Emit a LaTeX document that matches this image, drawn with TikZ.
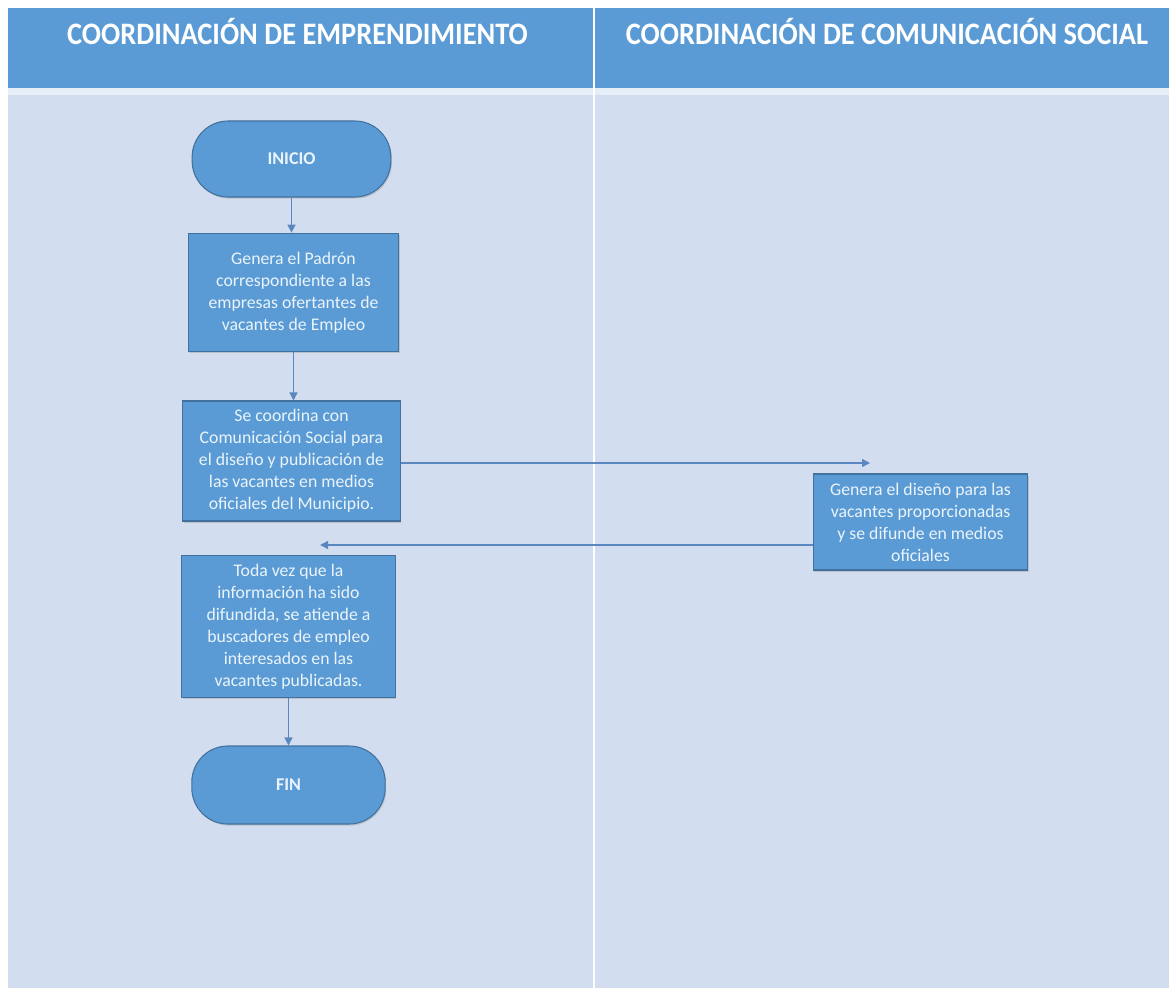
\documentclass[tikz,border=0pt]{standalone}
\usepackage{fontspec}
\setmainfont{Carlito}
\usetikzlibrary{arrows.meta,shadows}
\definecolor{hdr}{HTML}{5B9BD5}
\definecolor{body}{HTML}{D2DEEF}
\definecolor{sep}{HTML}{E6EEF8}
\definecolor{nodefill}{HTML}{5B9BD5}
\definecolor{nodeedge}{HTML}{41719C}
\definecolor{nodetext}{HTML}{EAF4FA}
\definecolor{arrcol}{HTML}{5B87C0}
\tikzset{
  procbox/.style={draw=nodeedge, line width=0.8pt, fill=nodefill, text=nodetext,
    align=center, inner sep=2pt, font=\fontsize{13.3}{16.5}\selectfont,
    drop shadow={shadow xshift=0.8pt, shadow yshift=-1.2pt, opacity=0.3}},
  termbox/.style={procbox, rounded corners=27pt, font=\fontsize{13.5}{16}\selectfont\bfseries},
  arr/.style={draw=arrcol, line width=1.1pt, -{Triangle[length=6pt,width=6pt]}},
  hdrtext/.style={text=white, font=\fontsize{21.3}{24}\selectfont\bfseries, yscale=1.1}
}
\begin{document}
\begin{tikzpicture}[x=0.75pt,y=-0.75pt]
\useasboundingbox (0,0) rectangle (1169,988);
\fill[white] (0,0) rectangle (1169,988);
% header and body bands
\fill[hdr] (8,8) rectangle (1169,88);
\fill[sep] (8,88) rectangle (1169,95);
\fill[body] (8,95) rectangle (1169,988);
\draw[white, line width=1.5pt] (594,8) -- (594,988);
% header titles
\node[hdrtext] (h1) at (297.5,31) {COORDINACIÓN DE EMPRENDIMIENTO};
\node[hdrtext] (h2) at (887,31) {COORDINACIÓN DE COMUNICACIÓN SOCIAL};
% nodes
\node[termbox, minimum width=149pt, minimum height=57pt] (inicio) at (291.5,159) {INICIO};
\node[procbox, minimum width=158pt, minimum height=89pt] (b1) at (293.5,292.5)
  {Genera el Padrón\\correspondiente a las\\empresas ofertantes de\\vacantes de Empleo};
\node[procbox, minimum width=163pt, minimum height=90pt] (b2) at (291.5,461)
  {Se coordina con\\Comunicación Social para\\el diseño y publicación de\\las vacantes en medios\\oficiales del Municipio.};
\node[procbox, minimum width=161pt, minimum height=72pt] (b3) at (920.5,522)
  {Genera el diseño para las\\vacantes proporcionadas\\y se difunde en medios\\oficiales};
\node[procbox, minimum width=160pt, minimum height=106pt] (b4) at (288.5,626.5)
  {Toda vez que la\\información ha sido\\difundida, se atiende a\\buscadores de empleo\\interesados en las\\vacantes publicadas.};
\node[termbox, minimum width=145pt, minimum height=58.5pt] (fin) at (288.5,785) {FIN};
% connectors
\coordinate (toB3) at (870,463);
\coordinate (toB4) at (320,545);
\draw[arr] (inicio.south) -- (inicio.south |- b1.north);
\draw[arr] (b1.south) -- (b1.south |- b2.north);
\draw[arr] (b2.east |- toB3) -- (toB3);
\draw[arr] (b3.west |- toB4) -- (toB4);
\draw[arr] (b4.south) -- (b4.south |- fin.north);
\end{tikzpicture}
\end{document}
